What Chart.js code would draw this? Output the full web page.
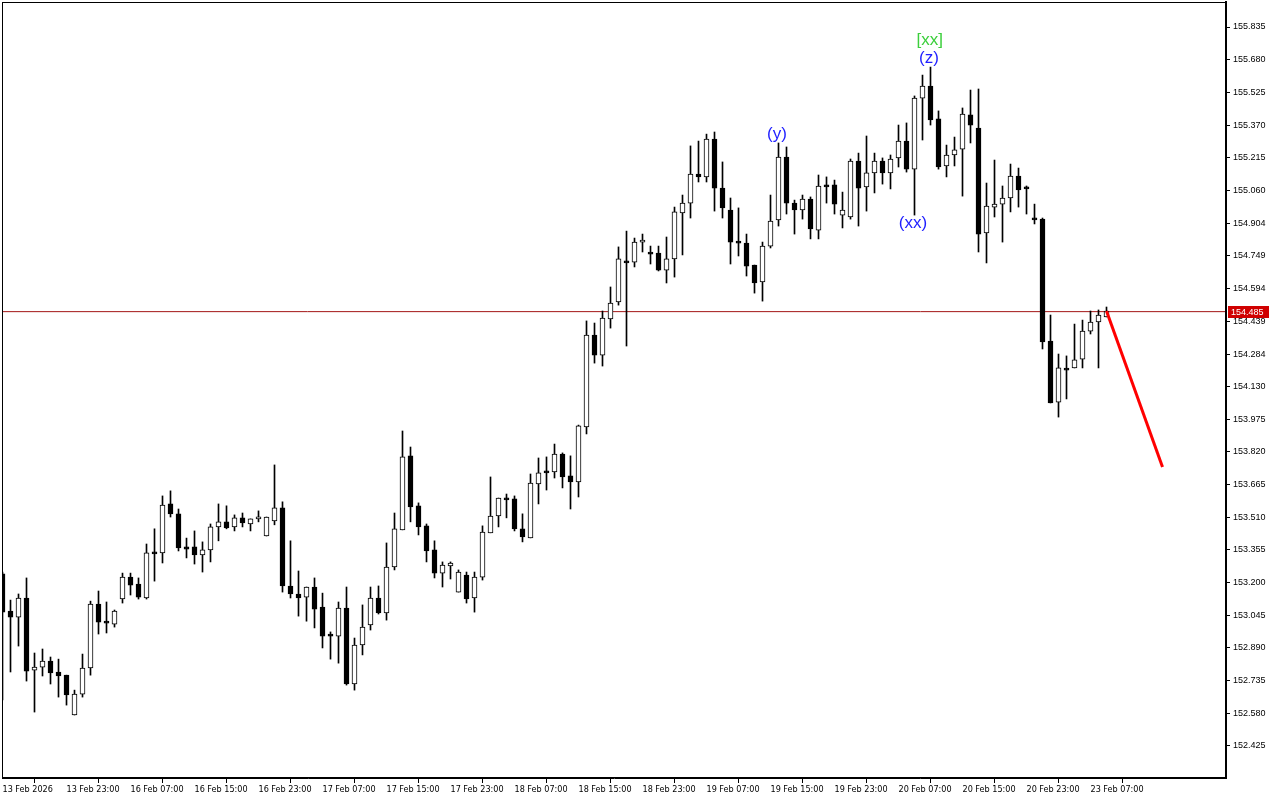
<!DOCTYPE html>
<html>
<head>
<meta charset="utf-8">
<script src="https://cdn.jsdelivr.net/npm/chart.js@4.4.1/dist/chart.umd.min.js"></script>
<style>
  html, body { margin: 0; padding: 0; background: #fff; }
  canvas { display: block; }
</style>
</head>
<body>
<canvas id="chart" width="1280" height="800"></canvas>
<script>
// H1 candles, 13 Feb 2026 .. 23 Feb 2026
const opens = [153.241,153.065,153.036,153.127,152.785,152.799,152.828,152.776,152.761,152.572,
  152.671,152.795,153.098,153.017,153.003,153.122,153.226,153.193,153.127,153.341,
  153.341,153.573,153.526,153.369,153.369,153.331,153.355,153.464,153.488,153.464,
  153.507,153.478,153.502,153.421,153.492,153.554,153.184,153.146,153.131,153.179,
  153.084,152.956,152.946,153.079,152.719,152.904,152.999,153.127,153.056,153.274,
  153.450,153.801,153.564,153.469,153.355,153.245,153.279,153.155,153.236,153.127,
  153.226,153.436,153.516,153.601,153.597,153.455,153.412,153.668,153.725,153.725,
  153.810,153.706,153.677,153.938,154.374,154.279,154.450,154.531,154.725,154.720,
  154.815,154.768,154.763,154.682,154.735,154.953,155.000,155.138,155.124,155.304,
  155.071,154.967,154.815,154.810,154.706,154.626,154.796,154.920,155.218,155.000,
  154.967,155.019,154.872,155.086,155.086,154.943,154.934,155.199,155.076,155.143,
  155.199,155.143,155.214,155.294,155.161,155.498,155.555,155.399,155.176,155.228,
  155.256,155.418,155.356,154.858,154.981,154.995,155.024,155.128,155.071,154.929,
  154.924,154.346,154.056,154.213,154.218,154.260,154.393,154.436,154.460];
const highs = [153.250,153.117,153.146,153.222,152.866,152.885,152.847,152.837,152.761,152.690,
  152.861,153.112,153.160,153.108,153.070,153.245,153.245,153.222,153.383,153.455,
  153.611,153.635,153.549,153.411,153.445,153.393,153.478,153.573,153.564,153.521,
  153.530,153.502,153.540,153.511,153.758,153.583,153.398,153.255,153.179,153.222,
  153.150,152.966,153.108,153.179,152.937,153.094,153.179,153.184,153.388,153.530,
  153.919,153.843,153.578,153.478,153.398,153.298,153.298,153.260,153.250,153.250,
  153.469,153.701,153.601,153.620,153.611,153.526,153.715,153.791,153.796,153.857,
  153.815,153.801,153.947,154.441,154.431,154.488,154.602,154.792,154.867,154.834,
  154.853,154.796,154.796,154.839,154.981,155.038,155.271,155.294,155.327,155.337,
  155.195,155.024,154.977,154.853,154.706,154.815,155.038,155.285,155.266,155.014,
  155.038,155.029,155.133,155.124,155.109,155.052,155.209,155.237,155.318,155.237,
  155.214,155.228,155.370,155.380,155.508,155.607,155.645,155.437,155.275,155.313,
  155.451,155.536,155.541,155.095,155.204,155.081,155.185,155.166,155.081,154.995,
  154.929,154.469,154.284,154.275,154.426,154.445,154.488,154.493,154.507];
const lows = [152.643,152.776,152.899,152.733,152.586,152.757,152.719,152.657,152.619,152.572,
  152.657,152.761,152.956,152.961,152.989,153.103,153.141,153.122,153.122,153.207,
  153.293,153.511,153.350,153.317,153.288,153.250,153.298,153.398,153.455,153.445,
  153.464,153.445,153.488,153.421,153.474,153.155,153.127,153.041,153.017,152.985,
  152.890,152.837,152.818,152.714,152.690,152.857,152.975,153.051,153.022,153.260,
  153.450,153.488,153.426,153.298,153.222,153.179,153.217,153.155,153.103,153.060,
  153.212,153.436,153.464,153.507,153.445,153.393,153.412,153.573,153.639,153.696,
  153.649,153.549,153.606,153.905,154.241,154.227,154.407,154.516,154.322,154.697,
  154.768,154.711,154.678,154.621,154.649,154.754,154.929,155.100,155.100,154.962,
  154.929,154.711,154.749,154.654,154.573,154.535,154.787,154.891,154.948,154.853,
  154.924,154.830,154.830,155.000,154.948,154.882,154.924,154.891,154.962,155.048,
  155.090,155.067,155.171,155.147,154.943,155.299,155.370,155.161,155.124,155.176,
  155.033,155.285,154.768,154.716,154.934,154.815,154.958,154.981,154.948,154.901,
  154.308,154.052,153.985,154.071,154.218,154.218,154.379,154.218,154.460];
const closes = [153.060,153.036,153.127,152.780,152.799,152.828,152.771,152.757,152.667,152.671,
  152.795,153.098,153.012,153.008,153.065,153.226,153.188,153.131,153.341,153.336,
  153.568,153.526,153.364,153.359,153.331,153.355,153.464,153.488,153.459,153.507,
  153.483,153.502,153.511,153.511,153.554,153.184,153.146,153.127,153.179,153.074,
  152.946,152.946,153.079,152.719,152.904,152.989,153.127,153.056,153.274,153.455,
  153.796,153.559,153.464,153.350,153.245,153.283,153.293,153.250,153.122,153.226,
  153.440,153.516,153.601,153.592,153.455,153.416,153.672,153.720,153.720,153.810,
  153.701,153.677,153.943,154.374,154.279,154.455,154.526,154.735,154.716,154.815,
  154.825,154.758,154.682,154.735,154.958,155.000,155.138,155.124,155.304,155.071,
  154.977,154.815,154.810,154.701,154.621,154.796,154.915,155.218,155.000,154.967,
  155.019,154.877,155.081,155.076,154.995,154.967,155.199,155.071,155.143,155.199,
  155.143,155.209,155.294,155.161,155.498,155.555,155.394,155.171,155.228,155.252,
  155.422,155.370,154.853,154.986,154.995,155.024,155.128,155.062,155.067,154.920,
  154.341,154.052,154.218,154.208,154.256,154.393,154.436,154.469,154.488];

const timeLabels = ['13 Feb 2026','13 Feb 23:00','16 Feb 07:00','16 Feb 15:00','16 Feb 23:00',
  '17 Feb 07:00','17 Feb 15:00','17 Feb 23:00','18 Feb 07:00','18 Feb 15:00','18 Feb 23:00',
  '19 Feb 07:00','19 Feb 15:00','19 Feb 23:00','20 Feb 07:00','20 Feb 15:00','20 Feb 23:00',
  '23 Feb 07:00'];
const timeLabelIdx = [0,8,16,24,32,40,48,56,64,72,80,88,96,104,112,120,128,136];

const priceTicks = [155.835,155.680,155.525,155.370,155.215,155.060,154.904,154.749,154.594,
  154.439,154.284,154.130,153.975,153.820,153.665,153.510,153.355,153.200,153.045,152.890,
  152.735,152.580,152.425];

const currentPrice = 154.485;
const forecastX = [138, 145];
const forecastY = [154.488, 153.748];

const waveText = ['(y)', '[xx]', '(z)', '(xx)'];
const waveX = [96.8, 115.9, 115.8, 113.8];
const waveY = [155.327, 155.773, 155.688, 154.905];
const waveColor = ['#1f1fff', '#3ccf3c', '#1f1fff', '#1f1fff'];

const idx = opens.map((_, i) => i);
const bodyColors = idx.map(i => closes[i] > opens[i] ? '#ffffff' : '#000000');

const noPad = (s) => { s.paddingTop = 0; s.paddingBottom = 0; s.paddingLeft = 0; s.paddingRight = 0; };

const framePlugin = {
  id: 'frame',
  afterDraw(chart) {
    const { ctx, chartArea: a } = chart;
    ctx.save();
    ctx.strokeStyle = '#000';
    ctx.lineWidth = 1;
    ctx.strokeRect(a.left + 0.5, a.top + 0.5, a.right - a.left - 1, a.bottom - a.top - 1);
    ctx.restore();
  }
};

const wavePlugin = {
  id: 'waves',
  afterDatasetsDraw(chart) {
    const { ctx, scales } = chart;
    ctx.save();
    ctx.font = '17px "Liberation Sans", Arial, sans-serif';
    ctx.textAlign = 'center';
    ctx.textBaseline = 'middle';
    waveText.forEach((t, i) => {
      ctx.fillStyle = waveColor[i];
      ctx.fillText(t, scales.x.getPixelForValue(waveX[i]), scales.y.getPixelForValue(waveY[i]));
    });
    ctx.restore();
  }
};

const priceTagPlugin = {
  id: 'priceTag',
  afterDraw(chart) {
    const { ctx, scales, chartArea } = chart;
    const py = Math.round(scales.y.getPixelForValue(currentPrice));
    ctx.save();
    ctx.fillStyle = '#d00000';
    ctx.fillRect(chartArea.right + 2, py - 6, 41, 12);
    ctx.fillStyle = '#fff';
    ctx.font = '9px "Liberation Sans", Arial, sans-serif';
    ctx.textBaseline = 'middle';
    ctx.fillText(currentPrice.toFixed(3), chartArea.right + 5, py + 0.5);
    ctx.restore();
  }
};

new Chart(document.getElementById('chart'), {
  data: {
    datasets: [
      {
        type: 'line',
        data: [{ x: -5, y: currentPrice }, { x: 160, y: currentPrice }],
        borderColor: '#a31515',
        borderWidth: 1,
        pointRadius: 0,
        order: 3
      },
      {
        type: 'bar',
        data: idx.map(i => ({ x: i, y: [lows[i], highs[i]] })),
        backgroundColor: '#000',
        barThickness: 1,
        grouped: false,
        order: 2
      },
      {
        type: 'bar',
        data: idx.map(i => ({ x: i, y: [opens[i], closes[i]] })),
        backgroundColor: bodyColors,
        borderColor: '#000',
        borderWidth: 1,
        borderSkipped: false,
        barThickness: 5,
        minBarLength: 2,
        grouped: false,
        order: 1
      },
      {
        type: 'line',
        data: forecastX.map((x, i) => ({ x: x, y: forecastY[i] })),
        borderColor: '#ff0000',
        borderWidth: 3,
        pointRadius: 0,
        order: 0
      }
    ]
  },
  options: {
    responsive: false,
    animation: false,
    layout: { autoPadding: false, padding: { left: 2, top: 2, right: 0, bottom: 0 } },
    plugins: { legend: { display: false }, tooltip: { enabled: false } },
    scales: {
      x: {
        type: 'linear',
        offset: false,
        min: -0.0625,
        max: 152.9375,
        afterBuildTicks: (s) => { s.ticks = timeLabelIdx.map(v => ({ value: v })); },
        afterFit: (s) => { s.height = 22; noPad(s); },
        grid: { drawOnChartArea: false, tickLength: 5, color: '#000' },
        border: { display: true, color: '#000' },
        ticks: {
          autoSkip: false,
          maxRotation: 0,
          align: 'start',
          padding: 1,
          color: '#000',
          font: { family: '"Liberation Sans Narrow", "DejaVu Sans Condensed", sans-serif', size: 9 },
          callback: (v) => timeLabels[timeLabelIdx.indexOf(v)]
        }
      },
      y: {
        type: 'linear',
        position: 'right',
        min: 152.2732,
        max: 155.9536,
        afterBuildTicks: (s) => { s.ticks = priceTicks.map(v => ({ value: v })); },
        afterFit: (s) => { s.width = 54; noPad(s); },
        grid: { drawOnChartArea: false, tickLength: 4, color: '#000' },
        border: { display: true, color: '#000', width: 2 },
        ticks: {
          autoSkip: false,
          padding: 3,
          color: '#000',
          font: { family: '"Liberation Sans", Arial, sans-serif', size: 9 },
          callback: (v) => v.toFixed(3)
        }
      }
    }
  },
  plugins: [framePlugin, wavePlugin, priceTagPlugin]
});
</script>
</body>
</html>
